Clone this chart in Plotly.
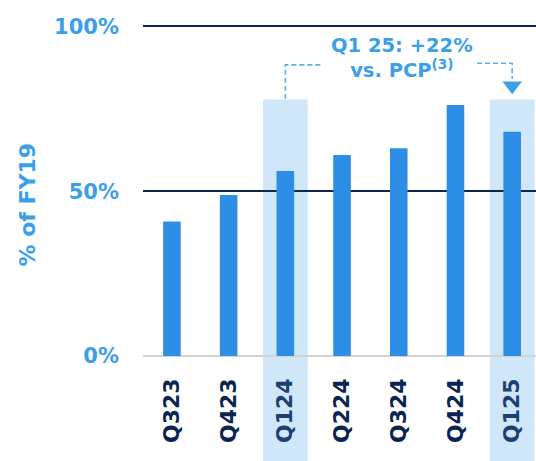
import plotly.graph_objects as go

categories = ["Q323", "Q423", "Q124", "Q224", "Q324", "Q424", "Q125"]
values = [40.8, 48.8, 56.1, 61.0, 63.0, 76.1, 68.0]
highlighted = ["Q124", "Q125"]
y_ticks = [0, 50, 100]
y_tick_labels = ["0%", "50%", "100%"]
callout_lines = ["Q1 25: +22%", "vs. PCP<sup>(3)</sup>"]
y_title = "% of FY19"

FONT = "DejaVu Sans"
BAR = "#2e8de4"
BAND = "#d0e7f9"
NAVY = "#0c2550"
NAVY_HL = "#1b4071"
LIGHT = "#3b9fe9"
DASH = "#5aafec"

ticktext = [
    f"<span style='color:{NAVY_HL}'>{c}</span>" if c in highlighted else c
    for c in categories
]

fig = go.Figure()
fig.add_trace(go.Bar(
    x=categories, y=values, width=0.31,
    marker=dict(color=BAR, line=dict(width=0)),
    hoverinfo="skip",
))

shapes = []
for c in highlighted:
    i = categories.index(c)
    shapes.append(dict(type="rect", xref="x", yref="paper",
                       x0=i - 0.395, x1=i + 0.395, y0=-0.34, y1=0.77,
                       fillcolor=BAND, line=dict(width=0), layer="below"))

i0 = categories.index(highlighted[0])
i1 = categories.index(highlighted[1])
shapes.append(dict(type="path", xref="x", yref="y",
                   path=f"M {i0} 78 L {i0} 88.3 L {i0 + 0.67} 88.3",
                   line=dict(color=DASH, width=1.6, dash="5px,3px")))
shapes.append(dict(type="path", xref="x", yref="y",
                   path=f"M {i1 - 0.62} 88.8 L {i1} 88.8 L {i1} 84",
                   line=dict(color=DASH, width=1.6, dash="5px,3px")))

fig.add_trace(go.Scatter(
    x=[highlighted[1]], y=[82.0], mode="markers",
    marker=dict(symbol="triangle-down", size=17, color="#3d9fea", line=dict(width=0)),
    hoverinfo="skip", cliponaxis=False,
))

fig.update_layout(
    width=536, height=461,
    margin=dict(l=143, r=0, t=23, b=105),
    plot_bgcolor="white", paper_bgcolor="white",
    showlegend=False,
    shapes=shapes,
    xaxis=dict(
        type="category", range=[-0.51, 6.42],
        tickmode="array", tickvals=categories, ticktext=ticktext,
        tickangle=-90, showgrid=False, zeroline=False, showline=False,
        ticks="", ticklabelstandoff=17,
        tickfont=dict(family=FONT, size=22, color=NAVY, weight="bold"),
        fixedrange=True,
    ),
    yaxis=dict(
        range=[0, 101], tickmode="array", tickvals=y_ticks, ticktext=y_tick_labels,
        showgrid=True, gridcolor="#0d2649", gridwidth=2,
        zeroline=True, zerolinecolor="#d3d3d3", zerolinewidth=2,
        showline=False, ticks="", ticklabelstandoff=23,
        tickfont=dict(family=FONT, size=21, color=LIGHT, weight="bold"),
        fixedrange=True,
    ),
    annotations=[
        dict(text=y_title, xref="paper", yref="paper", x=-0.295, y=0.455,
             textangle=-90, showarrow=False, xanchor="center", yanchor="middle",
             font=dict(family=FONT, size=22, color=LIGHT, weight="bold")),
        dict(text="<br>".join(callout_lines), xref="x", yref="y", x=4.05, y=90.5,
             showarrow=False, xanchor="center", yanchor="middle",
             font=dict(family=FONT, size=19.5, color=LIGHT, weight="bold")),
    ],
)

fig.write_html("out.html", config={"displayModeBar": False},
               post_script="document.body.style.margin='0';")
